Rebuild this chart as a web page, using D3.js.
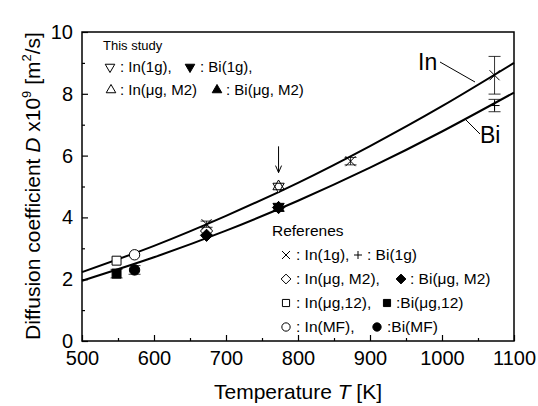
<!DOCTYPE html>
<html>
<head>
<meta charset="utf-8">
<script src="https://cdn.jsdelivr.net/npm/d3@7"></script>
<style>
body { margin: 0; background: #fff; }
text { font-family: "Liberation Sans", Arial, sans-serif; fill: #000; }
</style>
</head>
<body>
<div id="chart"></div>
<script>
var width = 538;
var height = 406;

// fitted curves
var curveT  = [500, 600, 700, 800, 900, 1000, 1100];
var curveIn = [2.23, 3.08, 4.05, 5.12, 6.31, 7.60, 9.00];
var curveBi = [1.95, 2.71, 3.57, 4.54, 5.61, 6.78, 8.04];

// this study
var studyT    = [773];
var studyIn1g = [5.0];
var studyBi1g = [4.35];
var studyInM2 = [5.0];
var studyBiM2 = [4.3];

// references
var refIn1gT = [673, 873, 1073];
var refIn1gD = [3.78, 5.82, 8.6];
var refIn1gE = [0.1, 0.12, 0.61];
var refBi1gT = [673, 1073];
var refBi1gD = [3.45, 7.62];
var refBi1gE = [0, 0.2];
var refInM2T = [673];
var refInM2D = [3.56];
var refBiM2T = [673, 773];
var refBiM2D = [3.42, 4.32];
var refIn12T = [548];
var refIn12D = [2.6];
var refBi12T = [548];
var refBi12D = [2.18];
var refBi12E = [0.14];
var refInMFT = [573];
var refInMFD = [2.79];
var refBiMFT = [573];
var refBiMFD = [2.3];
var refBiMFE = [0.14];

var xTicks = [500, 600, 700, 800, 900, 1000, 1100];
var xMinor = [550, 650, 750, 850, 950, 1050];
var yTicks = [0, 2, 4, 6, 8, 10];
var yMinor = [1, 3, 5, 7, 9];

var x = d3.scaleLinear().domain([500, 1100]).range([82, 514]);
var y = d3.scaleLinear().domain([0, 10]).range([341, 32]);

var svg = d3.select("#chart")
			.append("svg")
			.attr("width", width)
			.attr("height", height);

// axes (ticks point inward)
var gx = svg.append("g").attr("transform", "translate(0,341)")
	.call(d3.axisBottom(x).tickValues(xTicks).tickSize(-6).tickPadding(10).tickFormat(d3.format("d")));
svg.append("g").attr("transform", "translate(0,341)")
	.call(d3.axisBottom(x).tickValues(xMinor).tickSize(-3).tickFormat(""));
var gy = svg.append("g").attr("transform", "translate(82,0)")
	.call(d3.axisLeft(y).tickValues(yTicks).tickSize(-6).tickPadding(9));
svg.append("g").attr("transform", "translate(82,0)")
	.call(d3.axisLeft(y).tickValues(yMinor).tickSize(-3).tickFormat(""));

svg.selectAll(".domain").remove();
svg.selectAll(".tick line").attr("stroke", "#000").attr("stroke-width", 1.2);
svg.selectAll(".tick text").style("font-size", "20px").style("font-family", "Liberation Sans, Arial, sans-serif");

svg.append("rect")
	.attr("x", 82).attr("y", 32)
	.attr("width", 432).attr("height", 309)
	.attr("fill", "none").attr("stroke", "#000").attr("stroke-width", 1.5);

// curves
var line = d3.line().curve(d3.curveNatural)
	.x(function(d, i) { return x(curveT[i]); })
	.y(function(d) { return y(d); });

svg.append("path").datum(curveIn).attr("d", line)
	.attr("fill", "none").attr("stroke", "#000").attr("stroke-width", 2);
svg.append("path").datum(curveBi).attr("d", line)
	.attr("fill", "none").attr("stroke", "#000").attr("stroke-width", 2);

// marker shapes
var timesType = { draw: function(c, s) { var r = Math.sqrt(s) / 2; c.moveTo(-r, -r); c.lineTo(r, r); c.moveTo(-r, r); c.lineTo(r, -r); } };
var plusType  = { draw: function(c, s) { var r = Math.sqrt(s) / 2; c.moveTo(-r, 0); c.lineTo(r, 0); c.moveTo(0, -r); c.lineTo(0, r); } };
var diamType  = { draw: function(c, s) { var r = Math.sqrt(s) / 2; c.moveTo(0, -r); c.lineTo(r, 0); c.lineTo(0, r); c.lineTo(-r, 0); c.closePath(); } };

var markers = {
	triDownOpen: { type: d3.symbolTriangle, size: 55, fill: "#fff", rot: 180 },
	triDownFill: { type: d3.symbolTriangle, size: 55, fill: "#000", rot: 180 },
	triUpOpen:   { type: d3.symbolTriangle, size: 55, fill: "#fff", rot: 0 },
	triUpFill:   { type: d3.symbolTriangle, size: 55, fill: "#000", rot: 0 },
	times:       { type: timesType, size: 100, fill: "none", rot: 0 },
	plus:        { type: plusType, size: 100, fill: "none", rot: 0 },
	diamOpen:    { type: diamType, size: 150, fill: "#fff", rot: 0 },
	diamFill:    { type: diamType, size: 150, fill: "#000", rot: 0 },
	sqOpen:      { type: d3.symbolSquare, size: 80, fill: "#fff", rot: 0 },
	sqFill:      { type: d3.symbolSquare, size: 80, fill: "#000", rot: 0 },
	circOpen:    { type: d3.symbolCircle, size: 85, fill: "#fff", rot: 0 },
	circFill:    { type: d3.symbolCircle, size: 85, fill: "#000", rot: 0 }
};

function drawMarker(g, m, px, py, k) {
	var mk = markers[m];
	g.append("path")
		.attr("d", d3.symbol().type(mk.type).size(mk.size * k * k)())
		.attr("transform", "translate(" + px + "," + py + ") rotate(" + mk.rot + ")")
		.attr("fill", mk.fill)
		.attr("stroke", "#000")
		.attr("stroke-width", 1);
}

function drawErr(g, T, D, e) {
	if (!e) return;
	g.append("line").attr("x1", x(T)).attr("x2", x(T)).attr("y1", y(D - e)).attr("y2", y(D + e))
		.attr("stroke", "#000").attr("stroke-width", 0.8);
	[D - e, D + e].forEach(function(v) {
		g.append("line").attr("x1", x(T) - 6).attr("x2", x(T) + 6).attr("y1", y(v)).attr("y2", y(v))
			.attr("stroke", "#000").attr("stroke-width", 0.8);
	});
}

var pts = svg.append("g");

function series(Ts, Ds, Es, m) {
	for (var i = 0; i < Ts.length; i++) {
		if (Es) drawErr(pts, Ts[i], Ds[i], Es[i]);
		drawMarker(pts, m, x(Ts[i]), y(Ds[i]), 1);
	}
}

series(refIn12T, refIn12D, null, "sqOpen");
series(refBi12T, refBi12D, refBi12E, "sqFill");
series(refInMFT, refInMFD, null, "circOpen");
series(refBiMFT, refBiMFD, refBiMFE, "circFill");
series(refInM2T, refInM2D, null, "diamOpen");
series(refBiM2T, refBiM2D, null, "diamFill");
series(refIn1gT, refIn1gD, refIn1gE, "times");
series(refBi1gT, refBi1gD, refBi1gE, "plus");
series(studyT, studyBi1g, null, "triDownFill");
series(studyT, studyBiM2, null, "triUpFill");
series(studyT, studyIn1g, null, "triDownOpen");
studyT.forEach(function(t, i) {
	pts.append("path")
		.attr("d", d3.symbol().type(d3.symbolTriangle).size(55)())
		.attr("transform", "translate(" + x(t) + "," + y(studyInM2[i]) + ")")
		.attr("fill", "none").attr("stroke", "#000").attr("stroke-width", 1);
});

// arrow at 773 K
var ax = x(773);
svg.append("line").attr("x1", ax).attr("x2", ax).attr("y1", y(6.3)).attr("y2", y(5.45))
	.attr("stroke", "#000").attr("stroke-width", 1);
svg.append("path")
	.attr("d", "M" + (ax - 3) + "," + (y(5.45) - 7) + "L" + ax + "," + y(5.45) + "L" + (ax + 3) + "," + (y(5.45) - 7))
	.attr("fill", "none").attr("stroke", "#000").attr("stroke-width", 1);

// curve labels
svg.append("text").attr("x", 418).attr("y", 70).style("font-size", "23px").text("In");
svg.append("line").attr("x1", 440).attr("y1", 62).attr("x2", 475).attr("y2", 82).attr("stroke", "#000").attr("stroke-width", 1);
svg.append("text").attr("x", 480).attr("y", 143).style("font-size", "23px").text("Bi");
svg.append("line").attr("x1", 465).attr("y1", 119).attr("x2", 480).attr("y2", 134).attr("stroke", "#000").attr("stroke-width", 1);

// legend: this study
var leg1 = svg.append("g");
leg1.append("text").attr("x", 103).attr("y", 50).style("font-size", "13px").text("This study");
var legStudy = [
	{ m: "triDownOpen", mx: 110, tx: 120, y: 72, t: ": In(1g)," },
	{ m: "triDownFill", mx: 190, tx: 200, y: 72, t: ": Bi(1g)," },
	{ m: "triUpOpen",   mx: 111, tx: 120, y: 95, t: ": In(\u03bcg, M2)" },
	{ m: "triUpFill",   mx: 217, tx: 226, y: 95, t: ": Bi(\u03bcg, M2)" }
];
legStudy.forEach(function(d) {
	drawMarker(leg1, d.m, d.mx, d.y - 5, 0.85);
	leg1.append("text").attr("x", d.tx).attr("y", d.y).style("font-size", "15px").text(d.t);
});

// legend: references
var leg2 = svg.append("g");
leg2.append("text").attr("x", 272).attr("y", 236).style("font-size", "15.5px").text("Referenes");
var legRef = [
	{ m: "times",    mx: 286, tx: 296, y: 260, t: ": In(1g)," },
	{ m: "plus",     mx: 358, tx: 367, y: 260, t: ": Bi(1g)" },
	{ m: "diamOpen", mx: 286, tx: 296, y: 284, t: ": In(\u03bcg, M2)," },
	{ m: "diamFill", mx: 401, tx: 410, y: 284, t: ": Bi(\u03bcg, M2)" },
	{ m: "sqOpen",   mx: 286, tx: 296, y: 308, t: ": In(\u03bcg,12)," },
	{ m: "sqFill",   mx: 387, tx: 396, y: 308, t: ":Bi(\u03bcg,12)" },
	{ m: "circOpen", mx: 286, tx: 296, y: 332, t: ": In(MF)," },
	{ m: "circFill", mx: 377, tx: 387, y: 332, t: ":Bi(MF)" }
];
legRef.forEach(function(d) {
	drawMarker(leg2, d.m, d.mx, d.y - 5, 0.8);
	leg2.append("text").attr("x", d.tx).attr("y", d.y).style("font-size", "15.5px").text(d.t);
});

// axis titles
var xt = svg.append("text").attr("x", 298).attr("y", 399).attr("text-anchor", "middle").style("font-size", "21px");
xt.append("tspan").text("Temperature ");
xt.append("tspan").style("font-style", "italic").text("T");
xt.append("tspan").text(" [K]");

var yt = svg.append("text").attr("transform", "translate(40,186) rotate(-90)").attr("text-anchor", "middle").style("font-size", "21px");
yt.append("tspan").text("Diffusion coefficient ");
yt.append("tspan").style("font-style", "italic").text("D");
yt.append("tspan").text(" x10");
yt.append("tspan").attr("dy", -9).style("font-size", "13px").text("9");
yt.append("tspan").attr("dy", 9).text(" [m");
yt.append("tspan").attr("dy", -9).style("font-size", "13px").text("2");
yt.append("tspan").attr("dy", 9).text("/s]");
</script>
</body>
</html>
